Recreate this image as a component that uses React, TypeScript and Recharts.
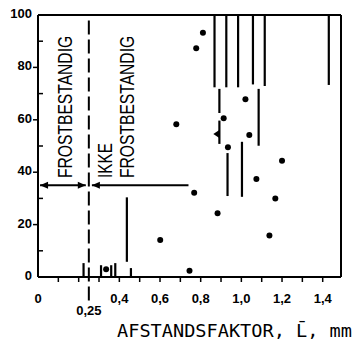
import React from 'react';
import { ScatterChart, Scatter, XAxis, YAxis, ReferenceLine } from 'recharts';

// single measurements: spacing factor (mm) vs. weight loss / damage (%)
const pointL = [0.811, 0.778, 0.68, 1.02, 0.913, 1.039, 0.934, 1.2, 1.074, 0.768, 1.167, 0.883, 1.138, 0.601, 0.745, 0.335];
const pointPct = [93.2, 87.3, 58.3, 67.8, 60.6, 54.2, 49.5, 44.4, 37.4, 32.2, 30.0, 24.3, 15.8, 14.1, 2.4, 3.0];

// left-pointing marker
const markerL = [0.877];
const markerPct = [54.6];

// ranges drawn as vertical bars
const rangeL = [0.868, 0.926, 0.984, 1.057, 1.115, 1.43, 0.892, 0.892, 1.085, 0.932, 1.003, 0.437, 0.224, 0.31, 0.36, 0.38, 0.457];
const rangeLow = [72.4, 72.4, 72.4, 73.5, 72.9, 73.3, 62.6, 50.8, 50.1, 30.9, 30.6, 5.8, 0, 0, 0, 0, 0];
const rangeHigh = [100, 100, 100, 100, 100, 100, 71.8, 59.7, 71.8, 47.3, 51.6, 30.4, 5.3, 4.5, 4.5, 5.3, 3.4];

// limit between frost resistant / not frost resistant
const limitL = 0.25;
const arrowPct = 35;
const arrowLeft = [0.01, 0.235];
const arrowRight = [0.265, 0.74];

const xMax = 1.49;
const xTicks = [0, 0.1, 0.2, 0.25, 0.3, 0.4, 0.5, 0.6, 0.7, 0.8, 0.9, 1.0, 1.1, 1.2, 1.3, 1.4];
const xLabelTicks = [0, 0.25, 0.4, 0.6, 0.8, 1.0, 1.2, 1.4];
const xTickLabels = ['0', '0,25', '0,4', '0,6', '0,8', '1,0', '1,2', '1,4'];
const yTicks = [0, 10, 20, 30, 40, 50, 60, 70, 80, 90, 100];
const yLabelTicks = [0, 20, 40, 60, 80, 100];

const points = pointL.map((l, i) => ({ l, pct: pointPct[i] }));
const markers = markerL.map((l, i) => ({ l, pct: markerPct[i] }));

const tickFont = { fontFamily: 'Liberation Sans, Arial, sans-serif', fontWeight: 700, fontSize: 13 };

const XTick = (props: any) => {
  const { x, y, payload } = props;
  const v = payload.value;
  const idx = xLabelTicks.indexOf(v);
  return (
    <g>
      {v !== 0 && v !== limitL && <line x1={x} y1={y} x2={x} y2={y + 5} stroke="#000" strokeWidth={1.5} />}
      {idx >= 0 && (
        <text x={x} y={y + (v === limitL ? 38 : 26)} textAnchor="middle" fill="#000" {...tickFont}>
          {xTickLabels[idx]}
        </text>
      )}
    </g>
  );
};

const YTick = (props: any) => {
  const { x, y, payload } = props;
  const v = payload.value;
  const major = yLabelTicks.includes(v);
  return (
    <g>
      {major ? (
        v !== 0 && v !== 100 && <line x1={x - 5} y1={y} x2={x} y2={y} stroke="#000" strokeWidth={1.5} />
      ) : (
        <line x1={x} y1={y} x2={x + 5} y2={y} stroke="#000" strokeWidth={1.5} />
      )}
      {major && (
        <text x={x - 6} y={y + 3} textAnchor="end" fill="#000" {...tickFont}>
          {v}
        </text>
      )}
    </g>
  );
};

const Dot = (p: any) => <circle cx={p.cx} cy={p.cy} r={3} fill="#000" />;
const LeftMarker = (p: any) => (
  <polygon points={`${p.cx - 3},${p.cy} ${p.cx + 3},${p.cy - 4} ${p.cx + 3},${p.cy + 4}`} fill="#000" />
);

const arrow = (both: boolean) => (p: any) => {
  const { x1, y1, x2, y2 } = p;
  return (
    <g>
      <line x1={x1} y1={y1} x2={x2} y2={y2} stroke="#000" strokeWidth={2} />
      <polygon points={`${x1},${y1} ${x1 + 8},${y1 - 3.5} ${x1 + 8},${y1 + 3.5}`} fill="#000" />
      {both && <polygon points={`${x2},${y2} ${x2 - 8},${y2 - 3.5} ${x2 - 8},${y2 + 3.5}`} fill="#000" />}
    </g>
  );
};

const labelFont = { fontFamily: 'Liberation Sans, Arial, sans-serif', fontSize: 21, fill: '#000' };

export default function App() {
  return (
    <div style={{ position: 'absolute', left: 0, top: 0, width: 355, height: 340, background: '#fff' }}>
      <ScatterChart width={355} height={340} margin={{ top: 15, right: 14, bottom: 0, left: 0 }}>
        <XAxis
          type="number"
          dataKey="l"
          domain={[0, xMax]}
          ticks={xTicks}
          interval={0}
          tick={<XTick />}
          tickLine={false}
          tickSize={0}
          tickMargin={0}
          height={63}
          axisLine={{ stroke: '#000', strokeWidth: 2 }}
        />
        <YAxis
          type="number"
          dataKey="pct"
          domain={[0, 100]}
          ticks={yTicks}
          interval={0}
          tick={<YTick />}
          tickLine={false}
          tickSize={0}
          tickMargin={0}
          width={38}
          axisLine={{ stroke: '#000', strokeWidth: 2 }}
        />
        <ReferenceLine y={100} stroke="#000" strokeWidth={2} />
        <ReferenceLine x={xMax} stroke="#000" strokeWidth={2} />
        <ReferenceLine
          segment={[{ x: limitL, y: -9 }, { x: limitL, y: 100 }]}
          ifOverflow="visible"
          stroke="#000"
          strokeWidth={2}
          strokeDasharray="14 5"
        />
        {rangeL.map((l, i) => (
          <ReferenceLine
            key={i}
            segment={[{ x: l, y: rangeLow[i] }, { x: l, y: rangeHigh[i] }]}
            stroke="#000"
            strokeWidth={2.2}
          />
        ))}
        <ReferenceLine
          segment={[{ x: arrowLeft[0], y: arrowPct }, { x: arrowLeft[1], y: arrowPct }]}
          shape={arrow(true)}
        />
        <ReferenceLine
          segment={[{ x: arrowRight[0], y: arrowPct }, { x: arrowRight[1], y: arrowPct }]}
          shape={arrow(false)}
        />
        <Scatter data={points} shape={<Dot />} isAnimationActive={false} />
        <Scatter data={markers} shape={<LeftMarker />} isAnimationActive={false} />
      </ScatterChart>
      <svg width={355} height={340} style={{ position: 'absolute', left: 0, top: 0, pointerEvents: 'none' }}>
        <text transform="translate(72,178) rotate(-90) scale(0.745,1)" {...labelFont}>
          FROSTBESTANDIG
        </text>
        <text transform="translate(112,178) rotate(-90) scale(0.73,1)" {...labelFont}>
          IKKE
        </text>
        <text transform="translate(134,178) rotate(-90) scale(0.745,1)" {...labelFont}>
          FROSTBESTANDIG
        </text>
        <text
          x={117}
          y={337}
          textLength={235}
          lengthAdjust="spacingAndGlyphs"
          fontFamily="DejaVu Sans Mono, monospace"
          fontSize={17}
          fill="#000"
        >
          AFSTANDSFAKTOR, L̄, mm
        </text>
      </svg>
    </div>
  );
}
